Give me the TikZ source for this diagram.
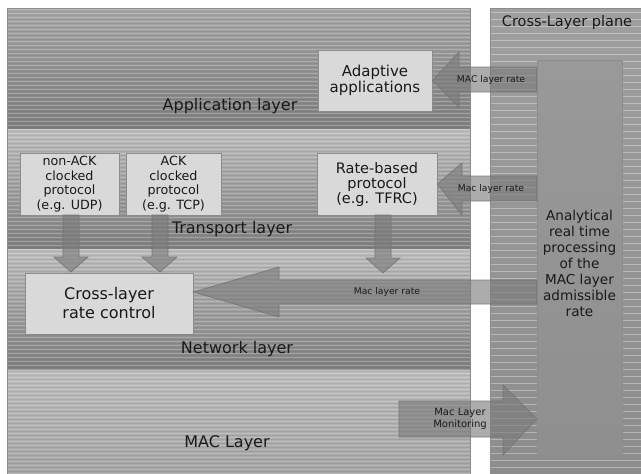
\documentclass[tikz,border=0pt]{standalone}
\usepackage{fontspec}
\setmainfont{DejaVu Sans}
\begin{document}
\begin{tikzpicture}[x=1pt,y=-1pt,
  layerlabel/.style={font=\fontsize{16}{19}\selectfont, inner sep=0pt, text=black!90},
  boxstyle/.style={draw=boxedge, fill=boxfill, line width=0.8pt, inner sep=0pt, align=center, text=black!90},
  blockarrow/.style={fill=arrowfill, fill opacity=0.62, draw=arrowedge, draw opacity=0.9, line width=0.7pt, line join=miter},
  arrowlabel/.style={font=\fontsize{9.2}{12}\selectfont, inner sep=0pt, align=center, text=black!90},
  stripe/.style={white, opacity=0.22, line width=1.4pt},
  darkstripe/.style={black, opacity=0.06, line width=1.2pt},
  rstripe/.style={white, opacity=0.35, line width=0.6pt}]
\definecolor{boxfill}{gray}{0.85}
\definecolor{boxedge}{gray}{0.55}
\definecolor{arrowfill}{gray}{0.48}
\definecolor{arrowedge}{gray}{0.45}
\definecolor{laytop}{gray}{0.74}
\definecolor{laymid}{gray}{0.64}
\definecolor{laybot}{gray}{0.50}
\definecolor{edge}{gray}{0.55}

\useasboundingbox (0,0) rectangle (641,474);
\fill[white] (0,0) rectangle (641,474);

% left panel layers
\shade[top color=gray!70!white, middle color=laymid, bottom color=laybot] (7,8) rectangle (470,129);
\shade[top color=laytop, middle color=laymid, bottom color=laybot] (7,129) rectangle (470,249);
\shade[top color=laytop, middle color=laymid, bottom color=laybot] (7,249) rectangle (470,370);
\shade[top color=laytop, bottom color=laymid] (7,370) rectangle (470,474);
\foreach \y in {9.5,13.5,...,473.5} \draw[stripe] (7,\y) -- (470,\y);
\foreach \y in {11.5,15.5,...,473.5} \draw[darkstripe] (7,\y) -- (470,\y);
\draw[edge, line width=1pt] (7,474) -- (7,8) -- (470,8) -- (470,474);

% right panel
\shade[top color=gray!75!white, bottom color=gray!100!black!90] (490,8) rectangle (641,474);
\foreach \y in {12,19,...,470} \draw[rstripe] (490,\y) -- (641,\y);
\draw[edge, line width=1pt] (490,474) -- (490,8) -- (641,8);

% layer labels
\node[layerlabel] (applab) at (230,106) {Application layer};
\node[layerlabel] (translab) at (232,229) {Transport layer};
\node[layerlabel] (netlab) at (237,349) {Network layer};
\node[layerlabel] (maclab) at (227,443) {MAC Layer};
\node[font=\fontsize{14.5}{17}\selectfont, inner sep=0pt, text=black!90] (cltitle) at (567,22) {Cross-Layer plane};

% boxes
\node[boxstyle, minimum width=114pt, minimum height=61pt, font=\fontsize{15}{16}\selectfont] (adapt) at (375,80.5) {Adaptive\\applications};
\node[boxstyle, minimum width=120pt, minimum height=62pt, font=\fontsize{14.5}{15}\selectfont] (ratebased) at (377,184) {Rate-based\\protocol\\(e.g. TFRC)};
\node[boxstyle, minimum width=99pt, minimum height=62pt, font=\fontsize{12.7}{14.5}\selectfont] (nonack) at (69.5,184) {non-ACK\\clocked\\protocol\\(e.g. UDP)};
\node[boxstyle, minimum width=95pt, minimum height=62pt, font=\fontsize{12.7}{14.5}\selectfont] (ack) at (173.5,184) {ACK\\clocked\\protocol\\(e.g. TCP)};
\node[boxstyle, minimum width=168pt, minimum height=61pt, font=\fontsize{16}{19}\selectfont] (crc) at (109,303.5) {Cross-layer\\rate control};

% analytical box
\shade[top color=gray!80!white, bottom color=gray!100!black!88, draw=edge, line width=0.8pt] (537,60) rectangle (622,455);
\node[inner sep=0pt, minimum width=85pt, minimum height=395pt] (anabox) at (579.5,257.5) {};
\node[font=\fontsize{13.6}{16}\selectfont, align=center, inner sep=0pt, text=black!90] (anatext) at (579.5,263) {Analytical\\real time\\processing\\of the\\MAC layer\\admissible\\rate};

% block arrows towards the boxes
\filldraw[blockarrow] (adapt.east) -- (459,52) -- (459,67) -- (anabox.west |- 0,67) -- (anabox.west |- 0,92) -- (459,92) -- (459,107) -- cycle;
\node[arrowlabel] (lab1) at (491,80) {MAC layer rate};

\filldraw[blockarrow] (ratebased.east) -- (462,163) -- (462,176) -- (anabox.west |- 0,176) -- (anabox.west |- 0,201) -- (462,201) -- (462,215) -- cycle;
\node[arrowlabel] (lab2) at (491,189) {Mac layer rate};

\filldraw[blockarrow] (crc.east |- 0,292) -- (279,267) -- (279,280) -- (anabox.west |- 0,280) -- (anabox.west |- 0,304) -- (279,304) -- (279,317) -- cycle;
\node[arrowlabel] (lab3) at (387,292) {Mac layer rate};

% monitoring arrow
\filldraw[blockarrow] (399,401) -- (503,401) -- (503,385) -- (anabox.west |- 0,419) -- (503,455) -- (503,437) -- (399,437) -- cycle;
\node[arrowlabel, font=\fontsize{10}{12}\selectfont] (lab4) at (460,419) {Mac Layer\\Monitoring};

% down arrows
\filldraw[blockarrow] (63,215) -- (63,257) -- (54,257) -- (71,272) -- (88,257) -- (79,257) -- (79,215) -- cycle;
\filldraw[blockarrow] (152,215) -- (152,257) -- (142,257) -- (160,272) -- (177,257) -- (168,257) -- (168,215) -- cycle;
\filldraw[blockarrow] (375,215) -- (375,258) -- (366,258) -- (383,273) -- (400,258) -- (391,258) -- (391,215) -- cycle;
\end{tikzpicture}
\end{document}
